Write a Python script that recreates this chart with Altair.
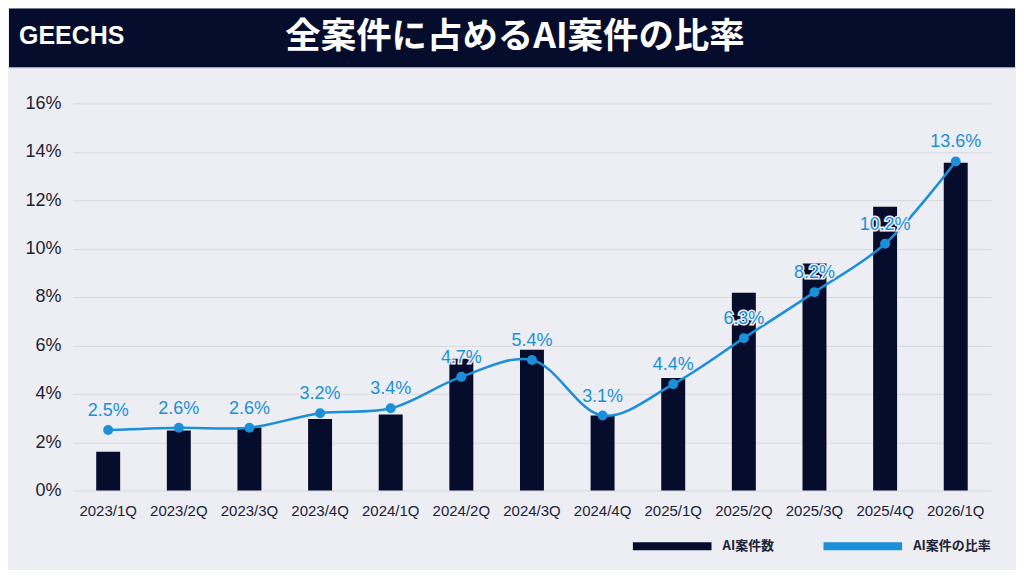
import pandas as pd
import altair as alt

## Data
quarters = ["2023/1Q", "2023/2Q", "2023/3Q", "2023/4Q", "2024/1Q", "2024/2Q", "2024/3Q",
            "2024/4Q", "2025/1Q", "2025/2Q", "2025/3Q", "2025/4Q", "2026/1Q"]
# bar heights (AI案件数), read against the % axis since the count axis is hidden
ai_count = [1.61, 2.48, 2.61, 2.96, 3.14, 5.45, 5.82, 3.10, 4.65, 8.18, 9.38, 11.73, 13.55]
# line values (AI案件の比率, %)
ai_ratio = [2.5, 2.6, 2.6, 3.2, 3.4, 4.7, 5.4, 3.1, 4.4, 6.3, 8.2, 10.2, 13.6]

series_names = ["AI案件数", "AI案件の比率"]
y_ticks = [0, 2, 4, 6, 8, 10, 12, 14, 16]

header_title = "全案件に占めるAI案件の比率"
header_logo = "GEECHS"

## colours
NAVY = "#050c2c"
BLUE = "#1b8fd8"
BG = "#eceef3"

df = pd.DataFrame({"quarter": quarters, "count": ai_count, "ratio": ai_ratio})
df["bar_series"] = series_names[0]
df["line_series"] = series_names[1]

color_scale = alt.Scale(domain=series_names, range=[NAVY, BLUE])
x_enc = alt.X("quarter:N", sort=quarters, title=None,
              scale=alt.Scale(paddingInner=0.66, paddingOuter=0.33),
              axis=alt.Axis(labelAngle=0, labelFontSize=15, labelColor="#1e2236",
                            labelFont="Liberation Sans", labelPadding=13,
                            ticks=False, domain=False))
y_scale = alt.Scale(domain=[0, 16], nice=False)

base = alt.Chart(df)

# wide flat legend swatch: path is 20 units wide, 2 units tall
bars = base.mark_bar(size=24).encode(
    x=x_enc,
    y=alt.Y("count:Q", scale=y_scale, title=None,
            axis=alt.Axis(values=y_ticks, labelExpr="datum.value + '%'", labelFontSize=18,
                          labelColor="#1e2236", labelFont="Liberation Sans", labelPadding=12,
                          ticks=False, domain=False, gridColor="#d6d9df", gridWidth=1)),
    color=alt.Color("bar_series:N", scale=color_scale, title=None,
                    legend=alt.Legend(orient="none", legendX=594, legendY=437,
                                      direction="horizontal",
                                      symbolType="M-10,-1H10V1H-10Z", symbolSize=62,
                                      symbolStrokeWidth=0, labelOffset=44,
                                      columnPadding=49, labelFontSize=13,
                                      labelFont="Noto Sans CJK JP", labelFontWeight="bold",
                                      labelColor="#1e2236")),
)

line = base.mark_line(strokeWidth=2.5, interpolate="catmull-rom").encode(
    x=alt.X("quarter:N", sort=quarters),
    y=alt.Y("ratio:Q", scale=y_scale),
    color=alt.Color("line_series:N", scale=color_scale, legend=None),
)

points = base.mark_circle(size=100, opacity=1, color=BLUE).encode(
    x=alt.X("quarter:N", sort=quarters),
    y=alt.Y("ratio:Q", scale=y_scale),
)

label_base = base.transform_calculate(
    label="format(datum.ratio, '.1f') + '%'"
).encode(
    x=alt.X("quarter:N", sort=quarters),
    y=alt.Y("ratio:Q", scale=y_scale),
    text="label:N",
)
label_halo = label_base.mark_text(dy=-19, fontSize=18, font="Liberation Sans",
                                  stroke=BG, strokeWidth=3, color=BG)
labels = label_base.mark_text(dy=-19, fontSize=18, font="Liberation Sans", color=BLUE)

## header band
header = alt.Chart(pd.DataFrame({"title": [header_title], "logo": [header_logo]}))
band = header.mark_rect(color=NAVY).encode(
    x=alt.value(-64), x2=alt.value(944), y=alt.value(-95), y2=alt.value(-36)
)
band_line = header.mark_rule(color="#c5cad6", strokeWidth=1).encode(
    x=alt.value(-64), x2=alt.value(944), y=alt.value(-35.5)
)
title_text = header.mark_text(fontSize=35.5, font="Noto Sans CJK JP", fontWeight="bold",
                              color="white", align="center", baseline="middle").encode(
    x=alt.value(443), y=alt.value(-66), text="title:N"
)
logo_text = header.mark_text(fontSize=25, font="Liberation Sans", fontWeight="bold",
                             color="white", align="left", baseline="middle").encode(
    x=alt.value(-54), y=alt.value(-67), text="logo:N"
)

chart = alt.layer(
    band, band_line, title_text, logo_text, bars, line, points, label_halo, labels
).properties(
    width=920, height=388,
    padding={"left": 0, "right": 0, "top": 0, "bottom": 16},
    background=BG,
).configure_view(stroke=None)

chart.save("out.html", embed_options={"renderer": "svg", "actions": False})
